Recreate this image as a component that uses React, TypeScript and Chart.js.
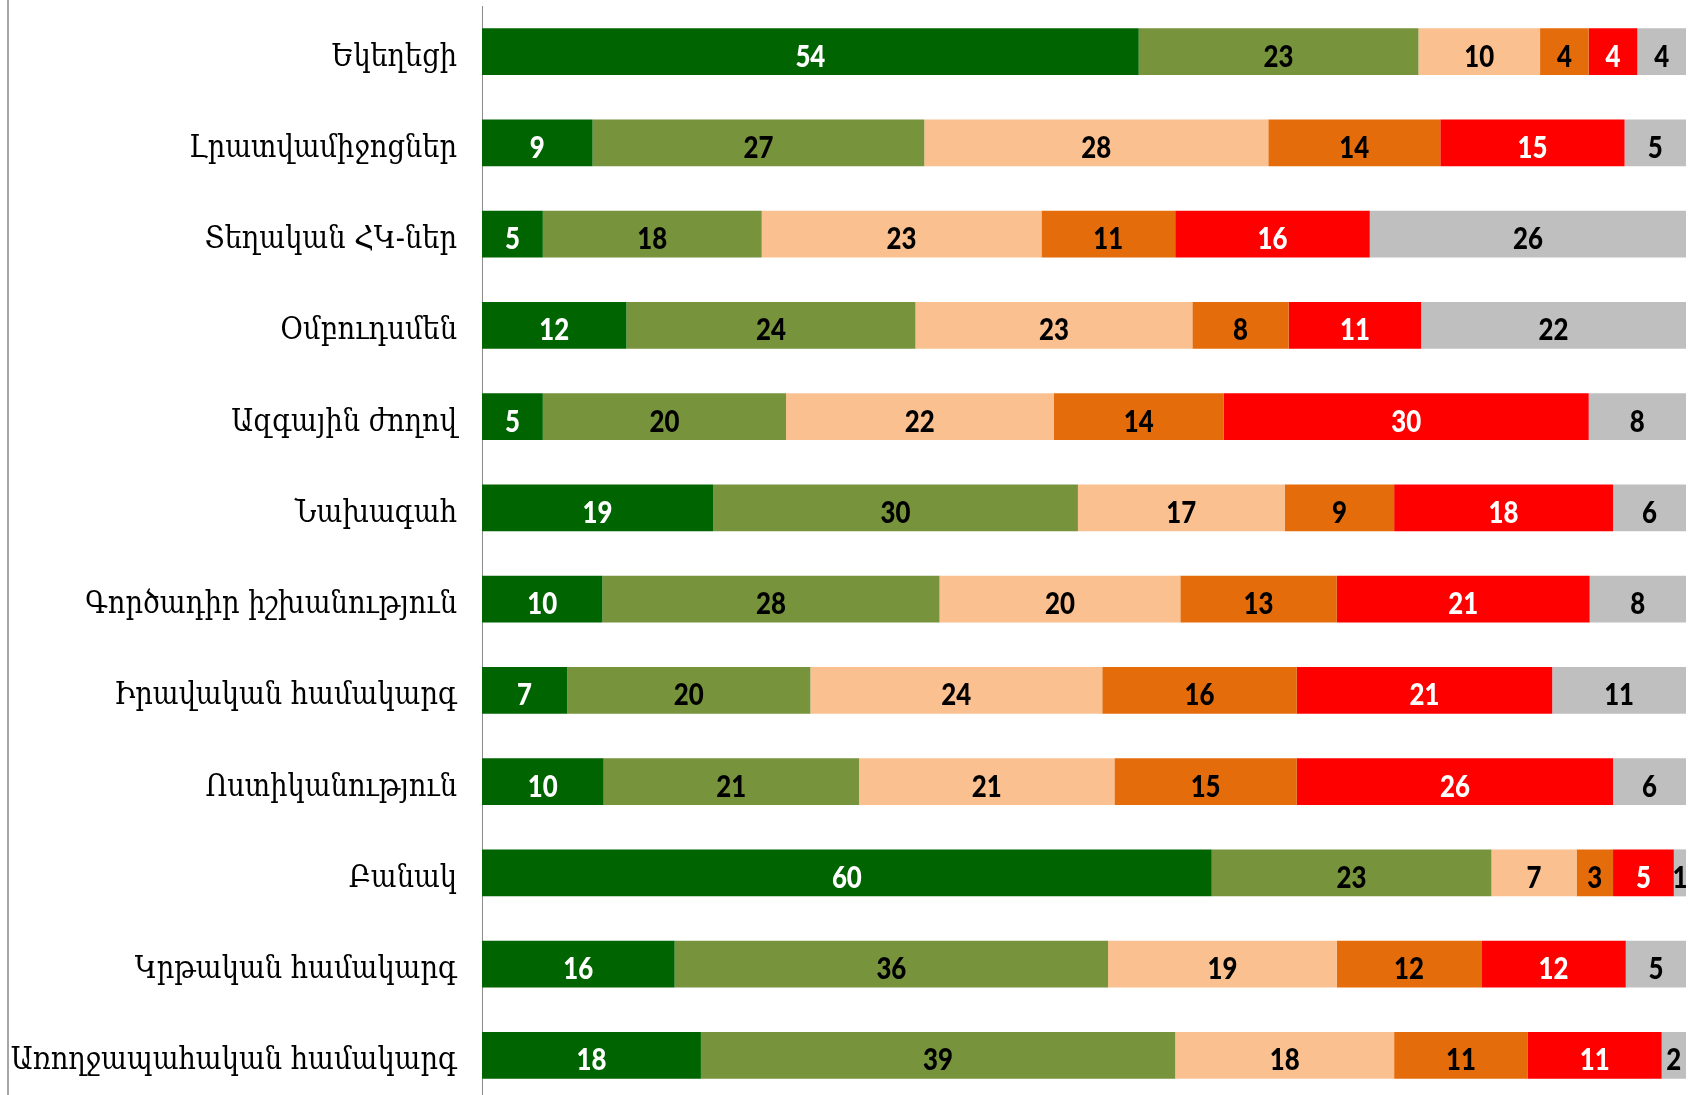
import React, { useEffect, useRef } from "react";
import { Chart, registerables } from "chart.js";

Chart.register(...registerables);

const categories = [
  "Եկեղեցի",
  "Լրատվամիջոցներ",
  "Տեղական ՀԿ-ներ",
  "Օմբուդսմեն",
  "Ազգային ժողով",
  "Նախագահ",
  "Գործադիր իշխանություն",
  "Իրավական համակարգ",
  "Ոստիկանություն",
  "Բանակ",
  "Կրթական համակարգ",
  "Առողջապահական համակարգ",
];

const s1 = [54, 9, 5, 12, 5, 19, 10, 7, 10, 60, 16, 18];
const s2 = [23, 27, 18, 24, 20, 30, 28, 20, 21, 23, 36, 39];
const s3 = [10, 28, 23, 23, 22, 17, 20, 24, 21, 7, 19, 18];
const s4 = [4, 14, 11, 8, 14, 9, 13, 16, 15, 3, 12, 11];
const s5 = [4, 15, 16, 11, 30, 18, 21, 21, 26, 5, 12, 11];
const s6 = [4, 5, 26, 22, 8, 6, 8, 11, 6, 1, 5, 2];

const seriesValues = [s1, s2, s3, s4, s5, s6];
const seriesColors = ["#006400", "#77933C", "#FAC090", "#E46C0A", "#FF0000", "#BFBFBF"];
const labelColors = ["#FFFFFF", "#000000", "#000000", "#000000", "#FFFFFF", "#000000"];

const totals = categories.map((_, i) => seriesValues.reduce((a, s) => a + s[i], 0));

const labelPlugin = {
  id: "segLabels",
  afterDatasetsDraw(chart: any) {
    const ctx = chart.ctx;
    chart.data.datasets.forEach((ds: any, di: number) => {
      const meta = chart.getDatasetMeta(di);
      meta.data.forEach((el: any, i: number) => {
        const p = el.getProps(["x", "y", "base"], true);
        const cx = (p.x + p.base) / 2;
        ctx.save();
        ctx.translate(cx, p.y + 15);
        ctx.scale(0.86, 1);
        ctx.font = "900 30px Lato";
        ctx.fillStyle = labelColors[di];
        ctx.textAlign = "center";
        ctx.textBaseline = "alphabetic";
        ctx.fillText(String(ds.raw[i]), 0, 0);
        ctx.restore();
      });
    });
  },
};

const catLabelPlugin = {
  id: "catLabels",
  afterDraw(chart: any) {
    const ctx = chart.ctx;
    const yScale = chart.scales.y;
    const right = chart.chartArea.left - 25;
    categories.forEach((c, i) => {
      const y = yScale.getPixelForTick(i);
      ctx.save();
      ctx.translate(right, y + 14);
      ctx.scale(0.88, 1);
      ctx.font = "31px 'DejaVu Serif'";
      ctx.fillStyle = "#000000";
      ctx.textAlign = "right";
      ctx.textBaseline = "alphabetic";
      ctx.fillText(c, 0, 0);
      ctx.restore();
    });
  },
};

const borderPlugin = {
  id: "leftBorder",
  afterDraw(chart: any) {
    const ctx = chart.ctx;
    ctx.save();
    ctx.strokeStyle = "#A6A6A6";
    ctx.lineWidth = 2;
    ctx.beginPath();
    ctx.moveTo(8, 0);
    ctx.lineTo(8, chart.height);
    ctx.stroke();
    ctx.restore();
  },
};

export default function App() {
  const ref = useRef<HTMLCanvasElement>(null);
  useEffect(() => {
    const chart = new Chart(ref.current!, {
      type: "bar",
      data: {
        labels: categories,
        datasets: seriesValues.map((vals, k) => ({
          label: "s" + (k + 1),
          data: vals.map((v, i) => (v / totals[i]) * 100),
          raw: vals,
          backgroundColor: seriesColors[k],
          borderWidth: 0,
          barPercentage: 0.515,
          categoryPercentage: 1,
        })) as any,
      },
      options: {
        indexAxis: "y",
        animation: false,
        responsive: false,
        maintainAspectRatio: false,
        layout: { padding: { top: 6, right: 7, bottom: 1, left: 0 } },
        plugins: { legend: { display: false }, tooltip: { enabled: false } },
        scales: {
          x: { display: false, stacked: true, min: 0, max: 100 },
          y: {
            stacked: true,
            grid: { display: false },
            border: { display: true, color: "#8C8C8C", width: 1 },
            ticks: { display: false },
            afterFit(scale: any) {
              scale.width = 482;
              scale.paddingTop = 0;
              scale.paddingBottom = 0;
            },
          },
        },
      },
      plugins: [labelPlugin, catLabelPlugin, borderPlugin],
    });
    return () => chart.destroy();
  }, []);
  return (
    <div style={{ position: "fixed", left: 0, top: 0, width: 1693, height: 1095, overflow: "hidden", background: "#fff" }}>
      <canvas ref={ref} width={1693} height={1102} style={{ display: "block" }} />
    </div>
  );
}
